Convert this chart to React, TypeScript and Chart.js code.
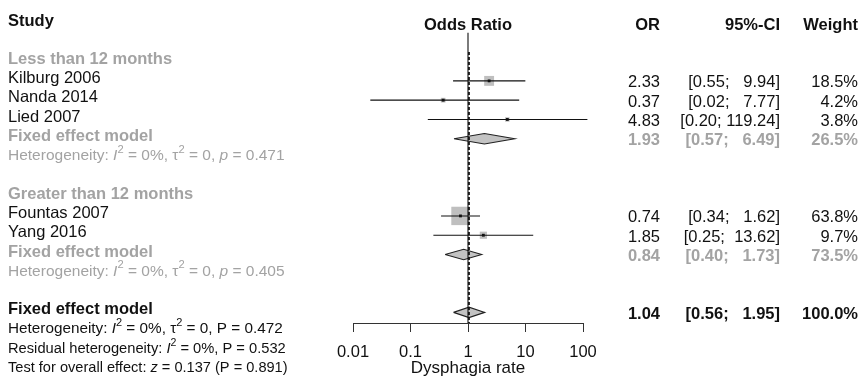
import { useEffect, useRef } from 'react';
import { Chart, registerables } from 'chart.js';

Chart.register(...registerables);

const FONT = '"Liberation Sans", Arial, Helvetica, sans-serif';
const BLACK = '#111111';
const GREY = '#a3a3a3';

// ---- Data ----
const studyNames = ['Kilburg 2006', 'Nanda 2014', 'Lied 2007', 'Fountas 2007', 'Yang 2016'];
const studyRows = [3, 4, 5, 10, 11];
const studyOR = [2.33, 0.37, 4.83, 0.74, 1.85];
const studyLower = [0.55, 0.02, 0.2, 0.34, 0.25];
const studyUpper = [9.94, 7.77, 119.24, 1.62, 13.62];
const studyWeight = [18.5, 4.2, 3.8, 63.8, 9.7];

const groupNames = ['Less than 12 months', 'Greater than 12 months'];
const groupLabelRows = [2, 9];
const groupModelRows = [6, 12];
const groupHetRows = [7, 13];
const groupOR = [1.93, 0.84];
const groupLower = [0.57, 0.4];
const groupUpper = [6.49, 1.73];
const groupWeight = [26.5, 73.5];
const groupI2 = ['0%', '0%'];
const groupTau2 = ['0', '0'];
const groupP = ['0.471', '0.405'];

const overallRow = 15;
const overallOR = 1.04;
const overallLower = 0.56;
const overallUpper = 1.95;
const overallWeight = 100.0;
const overallI2 = '0%';
const overallTau2 = '0';
const overallP = '0.472';
const residualI2 = '0%';
const residualP = '0.532';
const testZ = '0.137';
const testP = '0.891';
const footRows = [16, 17, 18];

const headerRow = 0;
const xTicks = [0.01, 0.1, 1, 10, 100];
const xTickLabels = ['0.01', '0.1', '1', '10', '100'];

// ---- Layout constants (styling) ----
const Y_MAX = 15.55;
const DIAMOND_HALF = 0.27;
const SQUARE_K = 2.3; // px side per sqrt(weight %)

type Part = { t: string; it?: boolean; sup?: boolean };

function fmtCI(lo: number, hi: number) {
  return `[${lo.toFixed(2)}; ${hi.toFixed(2).padStart(6, ' ')}]`;
}

const textPlugin = {
  id: 'forestText',
  afterDraw(chart: any) {
    const ctx: CanvasRenderingContext2D = chart.ctx;
    const ys = chart.scales.y;
    const xs = chart.scales.x;
    const py = (r: number) => ys.getPixelForValue(r);
    const L = 8;
    const C_OR = 660;
    const C_CI = 780;
    const C_W = 858;
    const LDY = -2.5;
    const RDY = 2;

    ctx.save();
    ctx.textBaseline = 'middle';

    const text = (
      s: string,
      x: number,
      y: number,
      o: { size?: number; bold?: boolean; color?: string; align?: CanvasTextAlign } = {}
    ) => {
      const size = o.size ?? 16.5;
      ctx.font = `${o.bold ? 'bold ' : ''}${size}px ${FONT}`;
      ctx.fillStyle = o.color ?? BLACK;
      ctx.textAlign = o.align ?? 'left';
      ctx.fillText(s, x, y);
    };

    const rich = (parts: Part[], x: number, y: number, size: number, color: string) => {
      ctx.textAlign = 'left';
      ctx.fillStyle = color;
      let cx = x;
      for (const p of parts) {
        const fs = p.sup ? size * 0.72 : size;
        ctx.font = `${p.it ? 'italic ' : ''}${fs}px ${FONT}`;
        const yy = p.sup ? y - size * 0.38 : y;
        ctx.fillText(p.t, cx, yy);
        cx += ctx.measureText(p.t).width;
      }
    };

    // headers
    text('Study', L, py(headerRow) - 2, { bold: true });
    text('Odds Ratio', xs.getPixelForValue(1), py(headerRow) + 2.5, { bold: true, align: 'center' });
    text('OR', C_OR, py(headerRow) + 2.5, { bold: true, align: 'right' });
    text('95%-CI', C_CI, py(headerRow) + 2.5, { bold: true, align: 'right' });
    text('Weight', C_W, py(headerRow) + 2.5, { bold: true, align: 'right' });

    // studies
    studyNames.forEach((n, i) => {
      const y = py(studyRows[i]);
      text(n, L, y + LDY);
      text(studyOR[i].toFixed(2), C_OR, y + RDY, { align: 'right' });
      text(fmtCI(studyLower[i], studyUpper[i]), C_CI, y + RDY, { align: 'right' });
      text(studyWeight[i].toFixed(1) + '%', C_W, y + RDY, { align: 'right' });
    });

    // subgroups
    groupNames.forEach((n, i) => {
      text(n, L, py(groupLabelRows[i]) + LDY, { bold: true, color: GREY });
      const y = py(groupModelRows[i]);
      text('Fixed effect model', L, y + LDY, { bold: true, color: GREY });
      text(groupOR[i].toFixed(2), C_OR, y + RDY, { bold: true, color: GREY, align: 'right' });
      text(fmtCI(groupLower[i], groupUpper[i]), C_CI, y + RDY, { bold: true, color: GREY, align: 'right' });
      text(groupWeight[i].toFixed(1) + '%', C_W, y + RDY, { bold: true, color: GREY, align: 'right' });
      rich(
        [
          { t: 'Heterogeneity: ' },
          { t: 'I', it: true },
          { t: '2', sup: true },
          { t: ` = ${groupI2[i]}, \u03c4` },
          { t: '2', sup: true },
          { t: ` = ${groupTau2[i]}, ` },
          { t: 'p', it: true },
          { t: ` = ${groupP[i]}` },
        ],
        L,
        py(groupHetRows[i]) + LDY,
        15.5,
        GREY
      );
    });

    // overall
    const yo = py(overallRow);
    text('Fixed effect model', L, yo + LDY, { bold: true });
    text(overallOR.toFixed(2), C_OR, yo + RDY, { bold: true, align: 'right' });
    text(fmtCI(overallLower, overallUpper), C_CI, yo + RDY, { bold: true, align: 'right' });
    text(overallWeight.toFixed(1) + '%', C_W, yo + RDY, { bold: true, align: 'right' });

    rich(
      [
        { t: 'Heterogeneity: ' },
        { t: 'I', it: true },
        { t: '2', sup: true },
        { t: ` = ${overallI2}, \u03c4` },
        { t: '2', sup: true },
        { t: ` = ${overallTau2}, P = ${overallP}` },
      ],
      L,
      py(footRows[0]) + LDY,
      15.3,
      BLACK
    );
    rich(
      [
        { t: 'Residual heterogeneity: ' },
        { t: 'I', it: true },
        { t: '2', sup: true },
        { t: ` = ${residualI2}, P = ${residualP}` },
      ],
      L,
      py(footRows[1]) + LDY,
      14.7,
      BLACK
    );
    rich(
      [
        { t: 'Test for overall effect: ' },
        { t: 'z', it: true },
        { t: ` = ${testZ} (P = ${testP})` },
      ],
      L,
      py(footRows[2]) + LDY,
      14.6,
      BLACK
    );

    ctx.restore();
  },
};

export default function App() {
  const ref = useRef<HTMLCanvasElement | null>(null);

  useEffect(() => {
    document.body.style.margin = '0';
    if (!ref.current) return;

    const lineBase = {
      type: 'line' as const,
      borderColor: '#111111',
      borderWidth: 1.1,
      pointRadius: 0,
      fill: false,
      clip: false as any,
      tension: 0,
    };

    const ciSets = studyNames.map((_, i) => ({
      ...lineBase,
      data: [
        { x: studyLower[i], y: studyRows[i] },
        { x: studyUpper[i], y: studyRows[i] },
      ],
      order: 3,
    }));

    const diamonds = [
      ...groupOR.map((m, i) => ({ m, lo: groupLower[i], hi: groupUpper[i], r: groupModelRows[i] })),
      { m: overallOR, lo: overallLower, hi: overallUpper, r: overallRow },
    ].map((d) => ({
      ...lineBase,
      data: [
        { x: d.lo, y: d.r },
        { x: d.m, y: d.r - DIAMOND_HALF },
        { x: d.hi, y: d.r },
        { x: d.m, y: d.r + DIAMOND_HALF },
        { x: d.lo, y: d.r },
      ],
      fill: 'shape',
      backgroundColor: '#c3c3c3',
      borderColor: '#222222',
      order: 4,
    }));

    const chart = new Chart(ref.current, {
      type: 'line',
      data: {
        datasets: [
          {
            ...lineBase,
            data: [
              { x: 1, y: 0.5 },
              { x: 1, y: Y_MAX },
            ],
            order: 1,
          },
          {
            ...lineBase,
            borderDash: [3, 2],
            borderWidth: 1.8,
            data: [
              { x: overallOR, y: 1.5 },
              { x: overallOR, y: Y_MAX },
            ],
            order: 0,
          },
          ...ciSets,
          {
            type: 'line',
            showLine: false,
            data: studyOR.map((v, i) => ({ x: v, y: studyRows[i] })),
            pointStyle: 'rect',
            pointRadius: (c: any) => (SQUARE_K * Math.sqrt(studyWeight[c.dataIndex] ?? 0)) / Math.SQRT2,
            pointBackgroundColor: '#bfbfbf',
            pointBorderWidth: 0,
            clip: false as any,
            order: 5,
          },
          {
            type: 'line',
            showLine: false,
            data: studyOR.map((v, i) => ({ x: v, y: studyRows[i] })),
            pointStyle: 'rect',
            pointRadius: 2,
            pointBackgroundColor: '#111',
            pointBorderWidth: 0,
            clip: false as any,
            order: 2,
          },
          ...diamonds,
        ] as any,
      },
      options: {
        animation: false,
        responsive: false,
        devicePixelRatio: 1,
        events: [],
        layout: { padding: { left: 353, right: 278, top: 23, bottom: 0 } },
        plugins: { legend: { display: false }, tooltip: { enabled: false } },
        scales: {
          x: {
            type: 'logarithmic',
            position: 'bottom',
            min: 0.01,
            max: 100,
            afterBuildTicks: (s: any) => {
              s.ticks = xTicks.map((v) => ({ value: v }));
            },
            afterFit: (s: any) => {
              s.height = 56;
            },
            grid: {
              display: true,
              drawOnChartArea: false,
              drawTicks: true,
              tickLength: 9,
              color: '#333',
              lineWidth: 1,
            },
            border: { display: true, color: '#333', width: 1 },
            ticks: {
              autoSkip: false,
              maxRotation: 0,
              padding: 11,
              color: BLACK,
              font: { family: FONT, size: 16.5 },
              callback: (_v: any, i: number) => xTickLabels[i],
            },
            title: {
              display: true,
              text: 'Dysphagia rate',
              color: BLACK,
              font: { family: FONT, size: 17 },
              padding: { top: 0, bottom: 0 },
            },
          },
          y: {
            type: 'linear',
            display: false,
            reverse: true,
            min: 0,
            max: Y_MAX,
          },
        },
      } as any,
      plugins: [textPlugin],
    });

    return () => chart.destroy();
  }, []);

  return <canvas ref={ref} width={861} height={379} style={{ display: 'block' }} />;
}
